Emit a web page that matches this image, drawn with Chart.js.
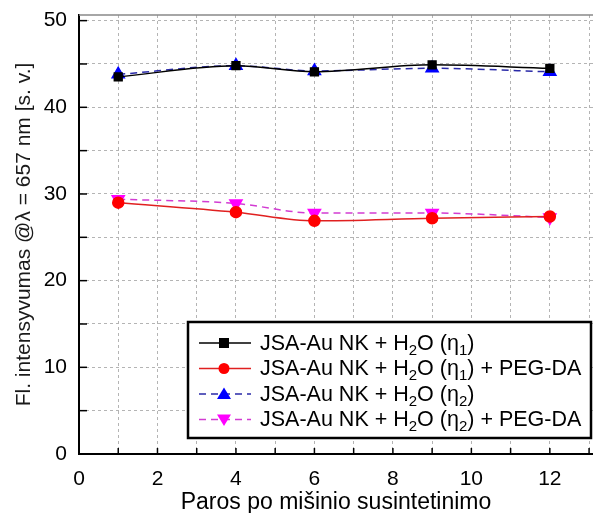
<!DOCTYPE html>
<html>
<head>
<meta charset="utf-8">
<script src="https://cdn.jsdelivr.net/npm/chart.js@4/dist/chart.umd.min.js"></script>
<style>
  html, body { margin: 0; padding: 0; background: #fff; }
  #wrap { width: 593px; height: 513px; }
</style>
</head>
<body>
<div id="wrap"><canvas id="flChart" width="593" height="513"></canvas></div>
<script>
// days after synthesis
var days = [1, 4, 6, 9, 12];

var seriesLabels = [
  'JSA-Au NK + H₂O (η₁)',
  'JSA-Au NK + H₂O (η₁) + PEG-DA',
  'JSA-Au NK + H₂O (η₂)',
  'JSA-Au NK + H₂O (η₂) + PEG-DA'
];

var water1 = [43.5, 44.8, 44.1, 44.9, 44.5];
var water1Peg = [29.0, 27.9, 26.9, 27.2, 27.4];
var water2 = [43.8, 44.8, 44.2, 44.5, 44.1];
var water2Peg = [29.4, 28.9, 27.8, 27.8, 27.3];

var xTicks = [0, 2, 4, 6, 8, 10, 12];
var xMinor = [0, 1, 2, 3, 4, 5, 6, 7, 8, 9, 10, 11, 12, 13];
var yTicks = [0, 10, 20, 30, 40, 50];
var yMinor = [0, 5, 10, 15, 20, 25, 30, 35, 40, 45, 50];

var FONT = 'Arial, "Liberation Sans", sans-serif';

function toPoints(vals) {
  return days.map(function (d, i) { return { x: d, y: vals[i] }; });
}

// inward tick marks + top frame line
var frameTicks = {
  id: 'frameTicks',
  afterDraw: function (chart) {
    var ctx = chart.ctx;
    var area = chart.chartArea;
    var xs = chart.scales.x;
    var ys = chart.scales.y;
    ctx.save();
    ctx.strokeStyle = '#888';
    ctx.lineWidth = 1.5;
    ctx.beginPath();
    ctx.moveTo(area.left, area.top);
    ctx.lineTo(chart.width, area.top);
    ctx.stroke();

    ctx.strokeStyle = '#000';
    ctx.lineWidth = 1.5;
    xs.ticks.forEach(function (t) {
      if (t.value === 0) return;
      var px = xs.getPixelForValue(t.value);
      ctx.beginPath();
      ctx.moveTo(px, area.bottom);
      ctx.lineTo(px, area.bottom - 6);
      ctx.stroke();
    });
    ys.ticks.forEach(function (t) {
      if (t.value === 0) return;
      var py = ys.getPixelForValue(t.value);
      ctx.beginPath();
      ctx.moveTo(area.left, py);
      ctx.lineTo(area.left + 8, py);
      ctx.stroke();
    });
    ctx.restore();
  }
};

// draw text with unicode subscript digits lowered
var SUBS = { '₁': '1', '₂': '2' };
function drawRich(ctx, text, x, y, size) {
  var cur = x;
  for (var i = 0; i < text.length; i++) {
    var ch = text[i];
    if (SUBS[ch]) {
      ctx.font = Math.round(size * 0.72) + 'px ' + FONT;
      ctx.fillText(SUBS[ch], cur, y + size * 0.3);
      cur += ctx.measureText(SUBS[ch]).width;
    } else {
      ctx.font = size + 'px ' + FONT;
      ctx.fillText(ch, cur, y);
      cur += ctx.measureText(ch).width;
    }
  }
}

function drawMarker(ctx, style, x, y, color, rot) {
  ctx.fillStyle = color;
  ctx.beginPath();
  if (style === 'rect') {
    ctx.rect(x - 5, y - 5, 10, 10);
  } else if (style === 'circle') {
    ctx.arc(x, y, 5.5, 0, Math.PI * 2);
  } else {
    var s = rot ? -1 : 1;
    ctx.moveTo(x, y - 6.5 * s);
    ctx.lineTo(x + 7, y + 5 * s);
    ctx.lineTo(x - 7, y + 5 * s);
    ctx.closePath();
  }
  ctx.fill();
}

var boxLegend = {
  id: 'boxLegend',
  afterDraw: function (chart) {
    var ctx = chart.ctx;
    var bx = 188, by = 322, bw = 403, bh = 116;
    ctx.save();
    ctx.fillStyle = '#fff';
    ctx.fillRect(bx, by, bw, bh);
    ctx.strokeStyle = '#000';
    ctx.lineWidth = 2.5;
    ctx.strokeRect(bx, by, bw, bh);
    chart.data.datasets.forEach(function (ds, i) {
      var cy = by + 21 + i * 25.5;
      ctx.strokeStyle = ds.borderColor;
      ctx.lineWidth = 1.5;
      ctx.setLineDash(ds.borderDash || []);
      ctx.beginPath();
      ctx.moveTo(199, cy);
      ctx.lineTo(251, cy);
      ctx.stroke();
      ctx.setLineDash([]);
      drawMarker(ctx, ds.pointStyle, 224, cy, ds.pointBackgroundColor, ds.pointRotation === 180);
      ctx.fillStyle = '#000';
      ctx.textBaseline = 'middle';
      drawRich(ctx, ds.label, 260, cy + 1, 21.5);
    });
    ctx.restore();
  }
};

var ctx = document.getElementById('flChart');
var myChart = new Chart(ctx, {
  type: 'line',
  data: {
    datasets: [{
      label: seriesLabels[0],
      data: toPoints(water1),
      borderColor: '#000000',
      backgroundColor: '#000000',
      pointBackgroundColor: '#000000',
      pointBorderColor: '#000000',
      pointStyle: 'rect',
      pointRadius: 5.5,
      borderWidth: 1.5,
      cubicInterpolationMode: 'monotone'
    }, {
      label: seriesLabels[1],
      data: toPoints(water1Peg),
      borderColor: '#e02020',
      backgroundColor: '#ff0000',
      pointBackgroundColor: '#ff0000',
      pointBorderColor: '#ff0000',
      pointStyle: 'circle',
      pointRadius: 5.5,
      borderWidth: 1.5,
      cubicInterpolationMode: 'monotone'
    }, {
      label: seriesLabels[2],
      data: toPoints(water2),
      borderColor: '#2a2aa8',
      backgroundColor: '#0000ff',
      pointBackgroundColor: '#0000ff',
      pointBorderColor: '#0000ff',
      pointStyle: 'triangle',
      pointRadius: 7,
      borderWidth: 1.5,
      borderDash: [7, 5],
      cubicInterpolationMode: 'monotone'
    }, {
      label: seriesLabels[3],
      data: toPoints(water2Peg),
      borderColor: '#d23cd2',
      backgroundColor: '#ff00ff',
      pointBackgroundColor: '#ff00ff',
      pointBorderColor: '#ff00ff',
      pointStyle: 'triangle',
      pointRotation: 180,
      pointRadius: 7,
      borderWidth: 1.5,
      borderDash: [7, 5],
      cubicInterpolationMode: 'monotone'
    }]
  },
  options: {
    responsive: false,
    animation: false,
    layout: { autoPadding: false, padding: { top: 15, right: 0 } },
    plugins: {
      legend: { display: false },
      tooltip: { enabled: false }
    },
    scales: {
      x: {
        type: 'linear',
        min: 0,
        max: 13.1,
        afterFit: function (s) { s.height = 59; s.paddingLeft = 0; s.paddingRight = 0; },
        afterBuildTicks: function (s) { s.ticks = xMinor.map(function (v) { return { value: v }; }); },
        ticks: {
          padding: 13,
          color: '#000',
          font: { family: FONT, size: 21 },
          maxRotation: 0,
          autoSkip: false,
          callback: function (v) { return xTicks.indexOf(v) >= 0 ? String(v) : ''; }
        },
        grid: {
          drawTicks: false,
          color: function (c) { return c.tick && c.tick.value > 0 ? '#b4b4b4' : 'transparent'; },
          lineWidth: 1
        },
        border: { color: '#000', width: 2, dash: [3, 3] },
        title: {
          display: true,
          text: 'Paros po mišinio susintetinimo',
          color: '#000',
          font: { family: FONT, size: 23 },
          padding: { top: 0, bottom: -3 }
        }
      },
      y: {
        type: 'linear',
        min: 0,
        max: 50.65,
        afterFit: function (s) { s.width = 79; s.paddingTop = 0; s.paddingBottom = 0; },
        afterBuildTicks: function (s) { s.ticks = yMinor.map(function (v) { return { value: v }; }); },
        ticks: {
          padding: 12,
          color: '#000',
          font: { family: FONT, size: 21 },
          autoSkip: false,
          callback: function (v) { return yTicks.indexOf(v) >= 0 ? String(v) : ''; }
        },
        grid: {
          drawTicks: false,
          color: function (c) { return c.tick && c.tick.value > 0 ? '#b4b4b4' : 'transparent'; },
          lineWidth: 1
        },
        border: { color: '#000', width: 2, dash: [3, 3] },
        title: {
          display: true,
          text: 'Fl. intensyvumas @λ = 657 nm [s. v.]',
          color: '#1a1a1a',
          font: { family: FONT, size: 21 },
          padding: { top: 12, bottom: 0 }
        }
      }
    }
  },
  plugins: [frameTicks, boxLegend]
});
</script>
</body>
</html>
